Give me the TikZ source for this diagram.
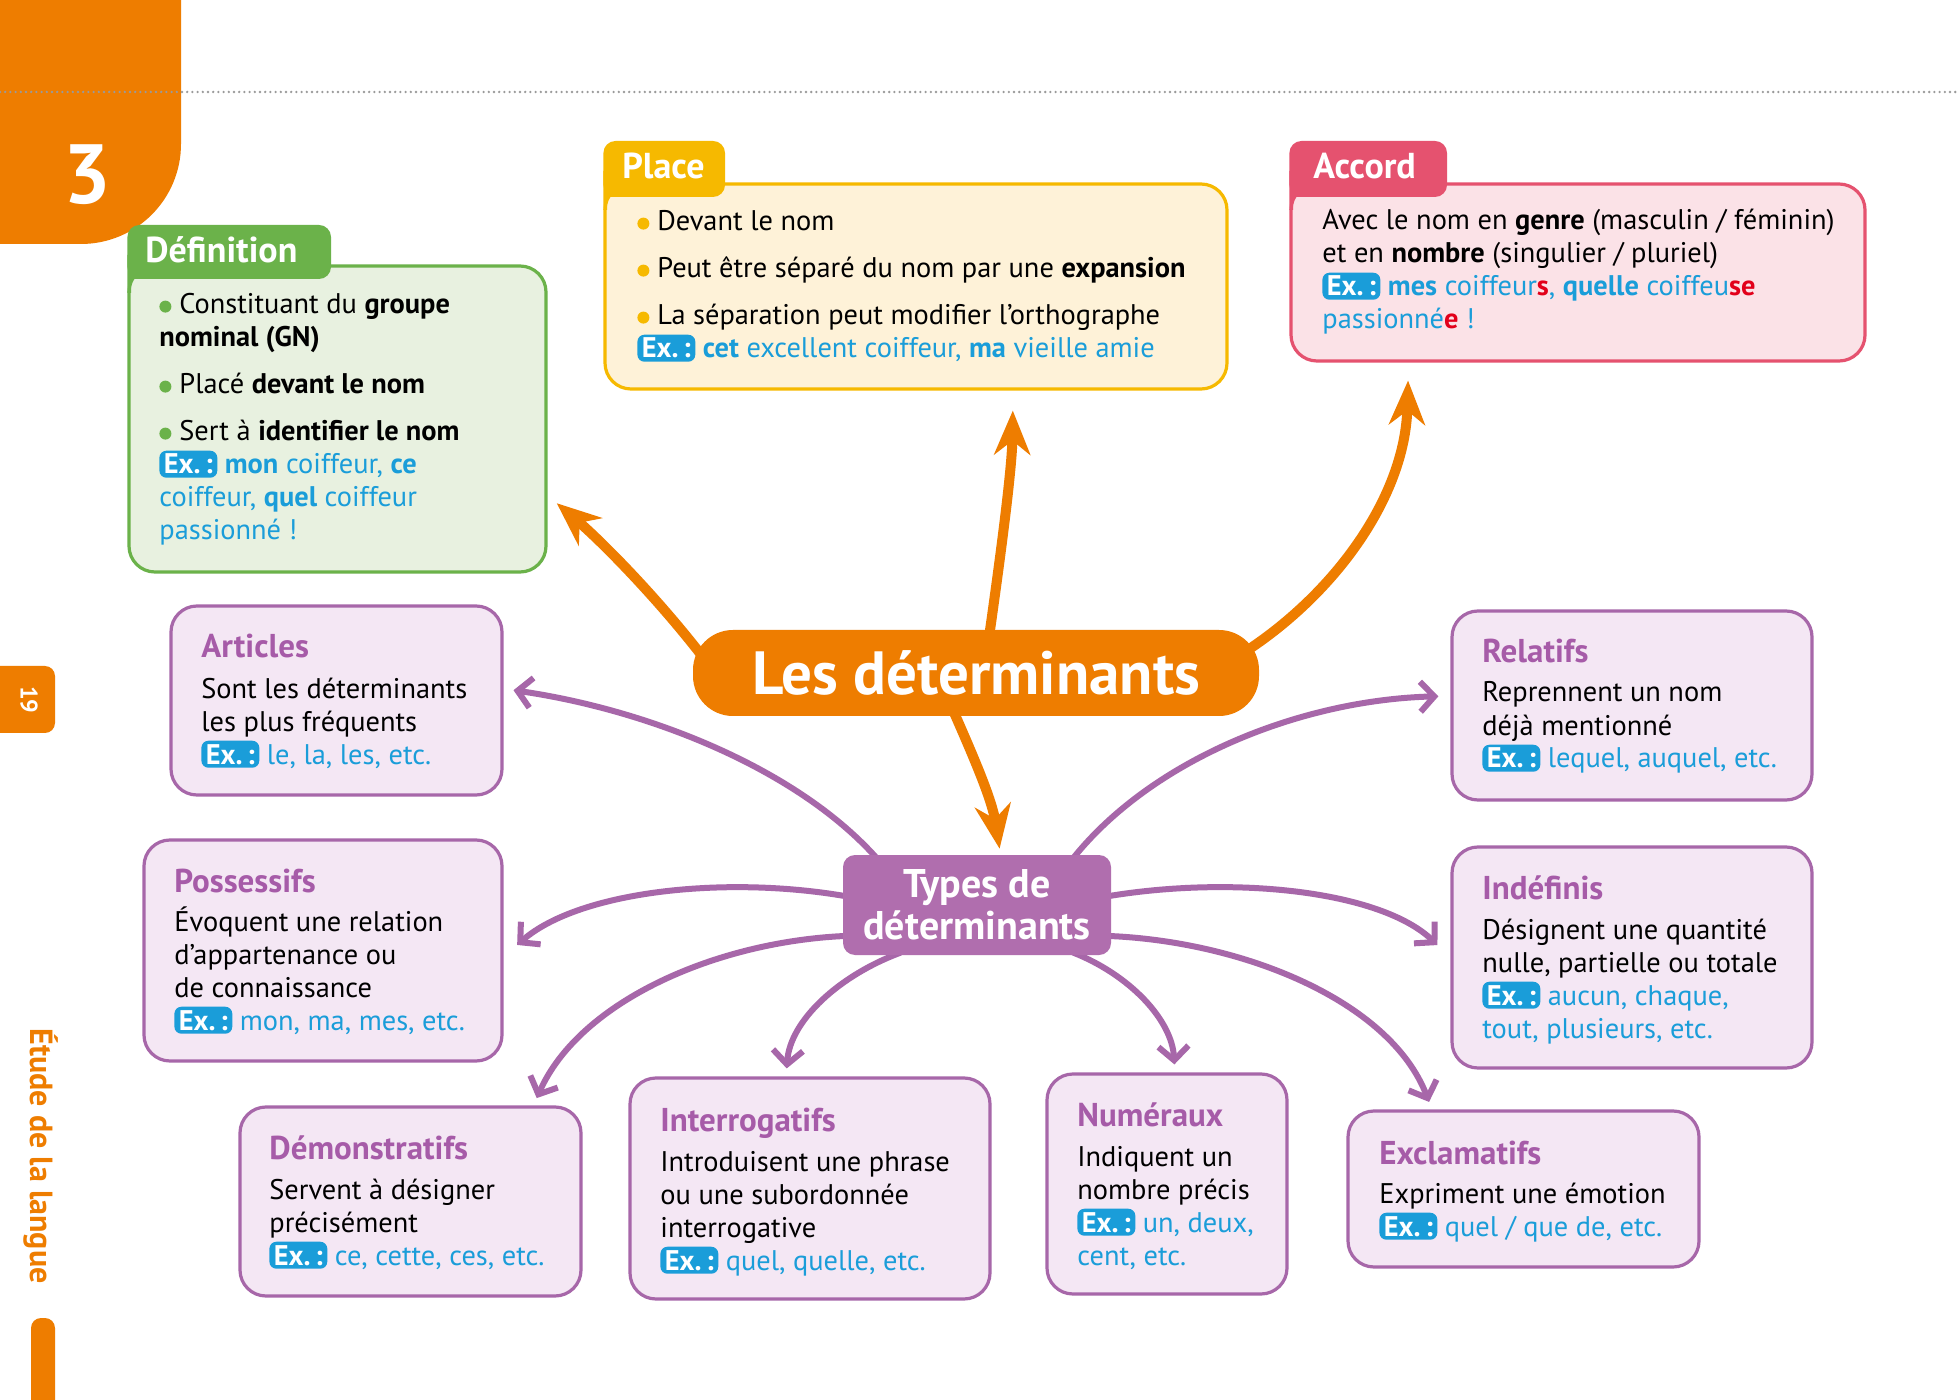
\documentclass[tikz,border=0pt]{standalone}
\usepackage{fontspec}
\setmainfont{PT Sans}
\usepackage{tikz}
\usetikzlibrary{arrows.meta}

\definecolor{orangeP}{HTML}{EE7D00}
\definecolor{vertT}{HTML}{6BB24A}
\definecolor{vertF}{HTML}{E8F1E0}
\definecolor{jauneT}{HTML}{F6B900}
\definecolor{jauneF}{HTML}{FEF2D8}
\definecolor{roseT}{HTML}{E5526F}
\definecolor{roseF}{HTML}{FBE2E7}
\definecolor{violetT}{HTML}{A767A9}
\definecolor{violetF}{HTML}{F4E7F4}
\definecolor{violetB}{HTML}{B06EAE}
\definecolor{titreV}{HTML}{A65BA8}
\definecolor{bleuEx}{HTML}{1A9DD9}
\definecolor{rougeAcc}{HTML}{E2001A}
\definecolor{gris}{HTML}{9A9A9A}

\newcommand{\ex}{\tikz[baseline=(exb.base)]\node[exbadge] (exb) {Ex.\,:};\ }
\newcommand{\bl}[1]{\textcolor{bleuEx}{#1}}
\newcommand{\bb}[1]{\textcolor{bleuEx}{\bfseries #1}}
\newcommand{\rg}[1]{\textcolor{rougeAcc}{\bfseries #1}}
\newcommand{\puce}[1]{\tikz[baseline=0pt]\fill[#1] (0pt,3.7pt) circle[radius=3pt];\hspace{4pt}}

\pgfdeclarelayer{fond}
\pgfsetlayers{fond,main}

\begin{document}
\begin{tikzpicture}[x=0.5pt,y=-0.5pt,line join=round]
  \tikzstyle{boite}=[draw=violetT,fill=violetF,line width=1.6pt,rounded corners=13pt,inner sep=0pt]
  \tikzstyle{titre}=[anchor=base west,inner sep=0pt,text=titreV,font=\fontsize{16.5}{18}\selectfont\bfseries]
  % base = baseline of the last line
  \tikzstyle{corps}=[anchor=base west,inner sep=0pt,align=left,font=\fontsize{14.2}{16.5}\selectfont]
  \tikzstyle{onglet}=[anchor=base west,inner sep=0pt,text=white,font=\fontsize{18}{20}\selectfont\bfseries]
  \tikzstyle{exbadge}=[fill=bleuEx,text=white,rounded corners=3.5pt,inner xsep=2.2pt,inner ysep=1.7pt,font=\bfseries]
  \tikzstyle{flecheO}=[draw=orangeP,line width=5pt,-{Stealth[length=22pt,width=18pt,inset=7pt]}]
  \tikzstyle{flecheV}=[draw=violetT,line width=3pt,-{Straight Barb[length=7pt,width=15pt]}]

  \useasboundingbox (0,0) rectangle (1959,1400);
  \begin{pgfonlayer}{fond}
    \fill[white] (0,0) rectangle (1959,1400);
  \end{pgfonlayer}

  % bord de page
  \fill[orangeP,rounded corners=50pt] (-120,-120) rectangle (181,244);
  \node[text=white,font=\fontsize{42}{44}\selectfont\bfseries] (num) at (87,175) {3};
  \draw[gris,line width=1.3pt,line cap=round,dash pattern=on 0pt off 2.6pt] (0,92) -- (1959,92);
  \fill[orangeP,rounded corners=5pt] (-20,666) rectangle (55,733);
  \node[rotate=-90,text=white,font=\fontsize{12}{13}\selectfont\bfseries] (page) at (29,700) {19};
  \node[rotate=-90,text=orangeP,font=\fontsize{16}{17}\selectfont\bfseries] (rubrique) at (41,1156) {Étude de la langue};
  \fill[orangeP,rounded corners=5pt] (31,1318) rectangle (55,1450);

  % cadres du haut
  \node[boite,draw=vertT,fill=vertF,minimum width=208.5pt,minimum height=153pt] (defbox) at (337.5,419) {};
  \fill[vertT,rounded corners=6pt] (127.4,225) rectangle (331,279);
  \fill[vertT] (127.4,255) rectangle (150,279) (127.4,279) rectangle (131,293);
  \node[onglet] (defT) at (145,263) {Définition};
  \node[corps] (defC) at (159,540) {\puce{vertT}Constituant du \textbf{groupe}\\\textbf{nominal (GN)}\\[7pt]\puce{vertT}Placé \textbf{devant le nom}\\[7pt]\puce{vertT}Sert à \textbf{identifier le nom}\\\ex\bb{mon} \bl{coiffeur,} \bb{ce}\\\bl{coiffeur,} \bb{quel} \bl{coiffeur}\\\bl{passionné !}};

  \node[boite,draw=jauneT,fill=jauneF,minimum width=311pt,minimum height=102.5pt] (placebox) at (916,286.5) {};
  \fill[jauneT,rounded corners=6pt] (603.4,141) rectangle (725,197);
  \fill[jauneT] (603.4,171) rectangle (626,197) (603.4,197) rectangle (607,210);
  \node[onglet] (placeT) at (622,179) {Place};
  \node[corps] (placeC) at (637,358) {\puce{jauneT}Devant le nom\\[7pt]\puce{jauneT}Peut être séparé du nom par une \textbf{expansion}\\[7pt]\puce{jauneT}La séparation peut modifier l’orthographe\\\ex\bb{cet} \bl{excellent coiffeur,} \bb{ma} \bl{vieille amie}};

  \node[boite,draw=roseT,fill=roseF,minimum width=287pt,minimum height=88.5pt] (accordbox) at (1578,272.5) {};
  \fill[roseT,rounded corners=6pt] (1289.4,141) rectangle (1447,197);
  \fill[roseT] (1289.4,171) rectangle (1312,197) (1289.4,197) rectangle (1293,210);
  \node[onglet] (accordT) at (1313,179) {Accord};
  \node[corps] (accordC) at (1322,329) {Avec le nom en \textbf{genre} (masculin / féminin)\\et en \textbf{nombre} (singulier / pluriel)\\\ex\bb{mes} \bl{coiffeur}\rg{s}\bl{,} \bb{quelle} \bl{coiffeu}\rg{se}\\\bl{passionné}\rg{e} \bl{!}};

  % centre
  \node[fill=orangeP,rounded corners=20pt,minimum width=283pt,minimum height=43pt,inner sep=0pt,text=white,font=\fontsize{30.5}{32}\selectfont\bfseries] (centre) at (976,673) {Les déterminants};
  \node[fill=violetB,rounded corners=6pt,minimum width=134pt,minimum height=50pt,inner sep=0pt,align=center,text=white,font=\fontsize{20}{21}\selectfont\bfseries] (types) at (977,905) {Types de\\déterminants};

  % types
  \node[boite,minimum width=165.5pt,minimum height=94.5pt] (articles) at (336.5,700.5) {};
  \node[titre] (articlesT) at (201,658) {Articles};
  \node[corps] (articlesC) at (201,764) {Sont les déterminants\\les plus fréquents\\\ex\bl{le, la, les, etc.}};

  \node[boite,minimum width=179pt,minimum height=110.5pt] (possessifs) at (323,950.5) {};
  \node[titre] (possessifsT) at (174,892) {Possessifs};
  \node[corps] (possessifsC) at (174,1030) {Évoquent une relation\\d’appartenance ou\\de connaissance\\\ex\bl{mon, ma, mes, etc.}};

  \node[boite,minimum width=170.5pt,minimum height=94.5pt] (demonstr) at (410.5,1201.5) {};
  \node[titre] (demonstrT) at (269,1159) {Démonstratifs};
  \node[corps] (demonstrC) at (269,1265) {Servent à désigner\\précisément\\\ex\bl{ce, cette, ces, etc.}};

  \node[boite,minimum width=180pt,minimum height=110.5pt] (interrog) at (810,1188.5) {};
  \node[titre] (interrogT) at (660,1131) {Interrogatifs};
  \node[corps] (interrogC) at (660,1270) {Introduisent une phrase\\ou une subordonnée\\interrogative\\\ex\bl{quel, quelle, etc.}};

  \node[boite,minimum width=120pt,minimum height=110pt] (numeraux) at (1167,1184) {};
  \node[titre] (numerauxT) at (1077,1126) {Numéraux};
  \node[corps] (numerauxC) at (1077,1265) {Indiquent un\\nombre précis\\\ex\bl{un, deux,}\\\bl{cent, etc.}};

  \node[boite,minimum width=175.5pt,minimum height=78pt] (exclam) at (1523.5,1189) {};
  \node[titre] (exclamT) at (1379,1164) {Exclamatifs};
  \node[corps] (exclamC) at (1379,1236) {Expriment une émotion\\\ex\bl{quel / que de, etc.}};

  \node[boite,minimum width=180pt,minimum height=94.5pt] (relatifs) at (1632,705.5) {};
  \node[titre] (relatifsT) at (1482,663) {Relatifs};
  \node[corps] (relatifsC) at (1482,768) {Reprennent un nom\\déjà mentionné\\\ex\bl{lequel, auquel, etc.}};

  \node[boite,minimum width=180pt,minimum height=110.5pt] (indefinis) at (1632,957.5) {};
  \node[titre] (indefinisT) at (1482,899) {Indéfinis};
  \node[corps] (indefinisC) at (1482,1038) {Désignent une quantité\\nulle, partielle ou totale\\\ex\bl{aucun, chaque,}\\\bl{tout, plusieurs, etc.}};

  % fleches
  \begin{pgfonlayer}{fond}
    \draw[flecheO,shorten <=-14pt,shorten >=6pt] (centre.174) .. controls (660,600) and (600,540) .. (defbox.340);
    \draw[flecheO,shorten <=-6pt,shorten >=10pt] (centre.72) .. controls (1000,560) and (1012,470) .. (placebox.313);
    \draw[flecheO,shorten <=-14pt,shorten >=9pt] (centre.6) .. controls (1330,600) and (1405,500) .. (accordbox.208);
    \draw[flecheO,shorten <=-6pt,shorten >=3pt] (centre.245) .. controls (975,760) and (992,800) .. (types.65);

    \draw[flecheV,shorten <=-4pt,shorten >=5pt] (types.154) .. controls (800,770) and (650,710) .. (articles.4);
    \draw[flecheV,shorten <=-4pt,shorten >=6pt] (types.27) .. controls (1150,760) and (1300,700) .. (relatifs.177);
    \draw[flecheV,shorten <=-4pt,shorten >=9pt] (types.176) .. controls (730,875) and (580,890) .. (possessifs.358);
    \draw[flecheV,shorten <=-4pt,shorten >=9pt] (types.4) .. controls (1230,875) and (1380,890) .. (indefinis.west);
    \draw[flecheV,shorten <=-4pt,shorten >=4pt] (types.193) .. controls (720,940) and (580,1000) .. (demonstr.38);
    \draw[flecheV,shorten <=-4pt,shorten >=4pt] (types.347) .. controls (1240,940) and (1390,1000) .. (exclam.139);
    \draw[flecheV,shorten <=-4pt,shorten >=4pt] (types.211) .. controls (840,975) and (790,1020) .. (interrog.102);
    \draw[flecheV,shorten <=-4pt,shorten >=4pt] (types.334) .. controls (1130,975) and (1172,1020) .. (numeraux.86);
  \end{pgfonlayer}
\end{tikzpicture}
\end{document}
